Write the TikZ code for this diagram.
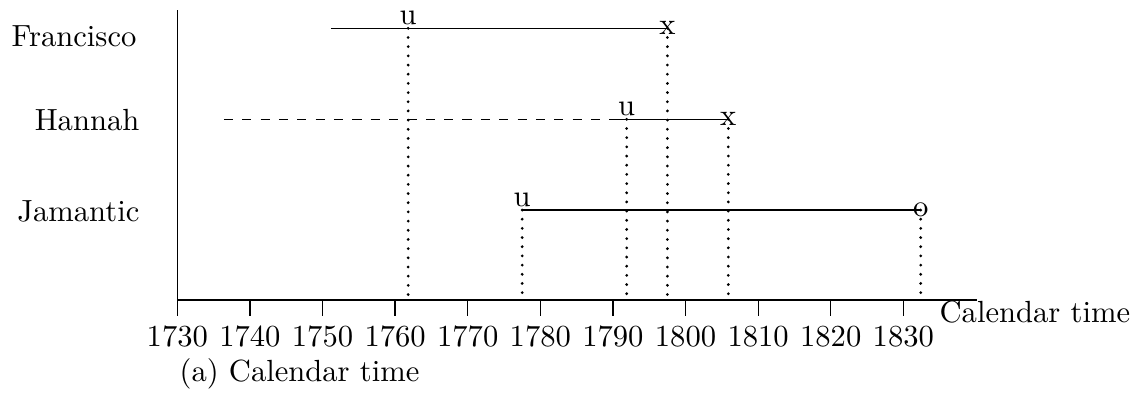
\documentclass[tikz,border=0pt]{standalone}
\begin{document}
\begin{tikzpicture}[x=0.3268pt,y=-0.3268pt,
  lbl/.style={inner sep=0pt, font=\fontsize{10}{12}\selectfont},
  markabove/.style={inner sep=1pt, anchor=south, font=\fontsize{10}{12}\selectfont},
  markon/.style={inner sep=0pt, anchor=center, font=\fontsize{10}{12}\selectfont},
  life/.style={line width=0.4pt},
  pastlife/.style={line width=0.4pt, dashed},
  guide/.style={line width=1pt, dash pattern=on 0pt off 3pt, line cap=round}]
\useasboundingbox (0,0) rectangle (1143,392);

% row labels
\node[lbl, anchor=base east] (fr) at (137,46.7) {Francisco};
\node[lbl, anchor=base east] (ha) at (140,130) {Hannah};
\node[lbl, anchor=base east] (ja) at (140,221) {Jamantic};

% axes
\coordinate (orig) at (177.3,300);
\coordinate (ytop) at (177.3,10);
\coordinate (xend) at (976.7,300);
\draw (ytop) -- (orig) -- (xend);
\foreach \yr in {1730,1740,...,1830} {
  \coordinate (t\yr) at ({177.3+(\yr-1730)*7.26},300);
  \coordinate (tb\yr) at ({177.3+(\yr-1730)*7.26},316);
  \draw (t\yr) -- (tb\yr);
  \node[lbl, anchor=base] (n\yr) at ({177.3+(\yr-1730)*7.26},346) {\yr};
}
\node[lbl, anchor=base west] (axl) at (939,322) {Calendar time};
\node[lbl, anchor=base west] (cap) at (179,381) {(a) Calendar time};

% Francisco
\coordinate (fs) at (330.8,28.3);
\coordinate (fu) at (408.2,28.3);
\coordinate (fx) at (667.4,28.3);
\coordinate (fub) at (408.2,300);
\coordinate (fxb) at (667.4,300);
\draw[life] (fs) -- (fx);

% Hannah
\coordinate (hs) at (223.8,119.3);
\coordinate (hm) at (614,119.3);
\coordinate (hu) at (626.7,119.3);
\coordinate (hx) at (728.3,119.3);
\coordinate (hub) at (626.7,300);
\coordinate (hxb) at (728.3,302);
\draw[pastlife] (hs) -- (hm);
\draw[life] (hm) -- (hx);

% Jamantic
\coordinate (ju) at (522.2,210);
\coordinate (jo) at (920.7,210);
\coordinate (jub) at (522.2,300);
\coordinate (job) at (920.7,300);
\draw[life] (ju) -- (jo);

% guides
\draw[guide] (fu) -- (fub);
\draw[guide] (fx) -- (fxb);
\draw[guide] (hu) -- (hub);
\draw[guide] (hx) -- (hxb);
\draw[guide] (ju) -- (jub);
\draw[guide] (jo) -- (job);

% markers
\node[markabove] (fuL) at (fu) {u};
\node[markon] (fxL) at (fx) {x};
\node[markabove] (huL) at (hu) {u};
\node[markon] (hxL) at (hx) {x};
\node[markabove] (juL) at (ju) {u};
\node[markon] (joL) at (jo) {o};
\end{tikzpicture}
\end{document}
